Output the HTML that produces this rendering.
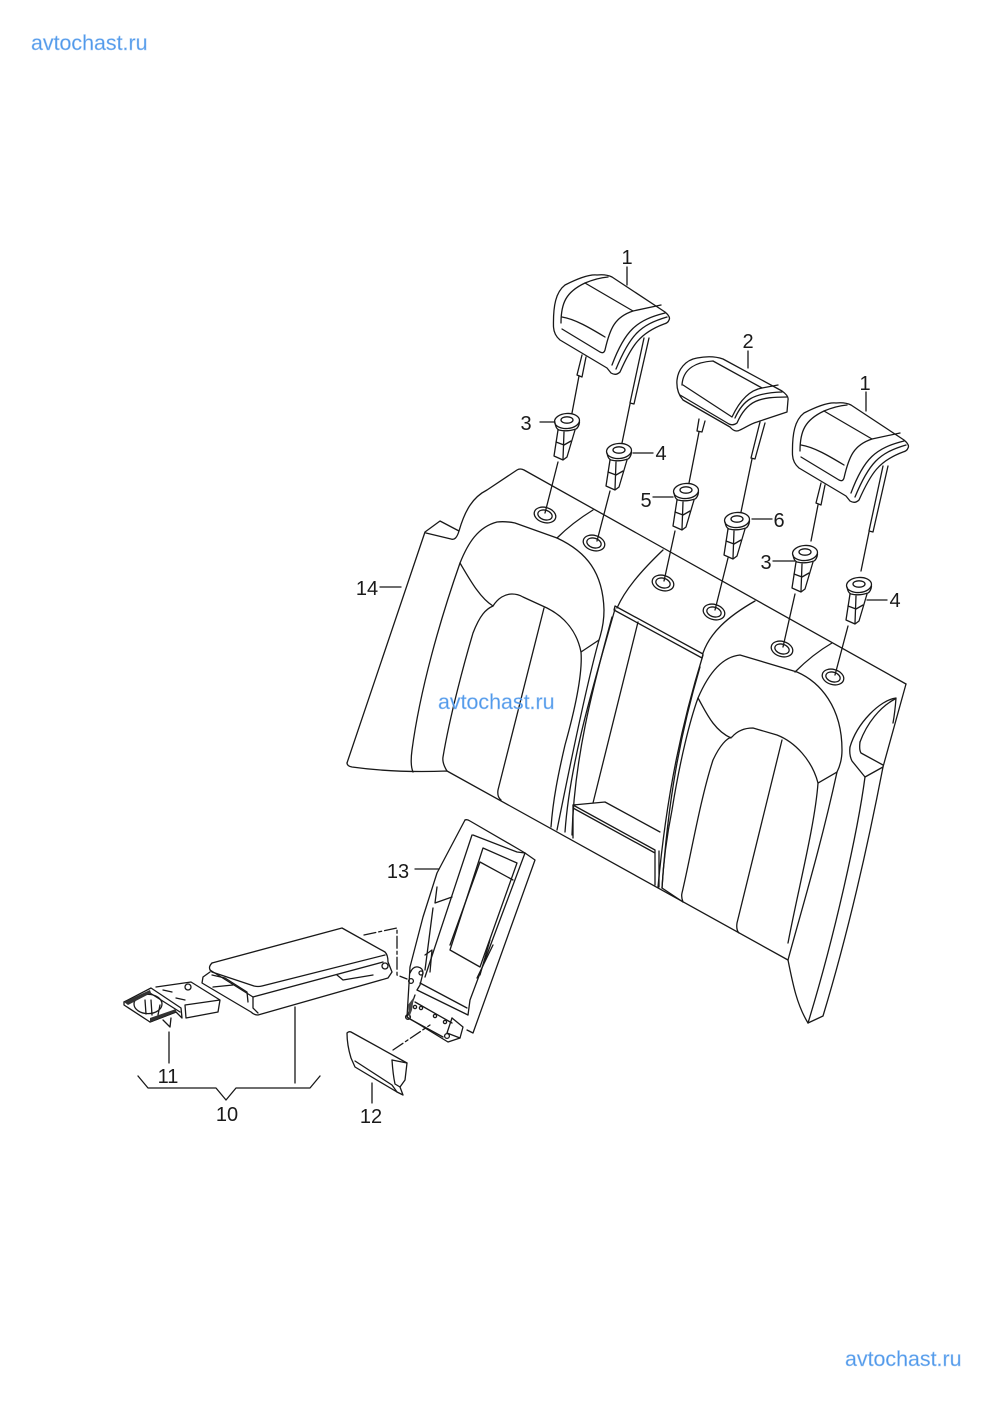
<!DOCTYPE html>
<html><head><meta charset="utf-8"><style>
html,body{margin:0;padding:0;background:#fff}
svg{display:block}
.l path,.l line,.l ellipse,.l circle,.l polyline{fill:none;stroke:#181818;stroke-width:1.3;stroke-linejoin:round;stroke-linecap:round}
.t{font-family:"Liberation Sans",sans-serif;font-size:20px;fill:#1a1a1a;text-anchor:middle}
.w{font-family:"Liberation Sans",sans-serif;font-size:21.4px;fill:#3f8fe8;opacity:.9;stroke:#9cc6f5;stroke-width:.4}
</style></head><body>
<svg width="993" height="1403" viewBox="0 0 993 1403" xmlns="http://www.w3.org/2000/svg">
<rect width="993" height="1403" fill="#fff"/>
<g class="l">
<defs>
<g id="hr">
<path d="M553.5 327C553 305 556 292 565 285C575 280 588 274 597 275Q606 274 612 277L665 312Q671 317 669 320Q668 323 664 324C640 333 632 345 620 372Q616 376 611 373L607 368L560 340Q554 335 553.5 327Z"/>
<path d="M561 323C561 303 566 292 585 283Q597 278 608 277"/>
<path d="M585 283L633 311L661 305"/>
<path d="M633 311C615 317 610 328 605 350Q604 354 600 352L562 329"/>
<path d="M562 317C575 319 590 328 605 337"/>
<path d="M665 313C637 320 625 330 612 365"/>
<path d="M667 317C640 325 630 335 616 369"/>
<path d="M582 355L577 375L582 377L586 357"/>
<path d="M644 338L630 403L634 404L649 338"/>
</g>
<g id="cl">
<ellipse cx="0" cy="0" rx="12.5" ry="7.5" transform="rotate(-4)"/>
<ellipse cx="0" cy="-1" rx="6" ry="3.2"/>
<path d="M-12 2Q-11 8-8 9Q0 11 9 8Q12 6 12.5 1"/>
<path d="M-9 9L-13 35L-4 39L0 36L8 9"/>
<path d="M-11 21L-3 24L4 20M-3 11L-4 38"/>
</g>
<g id="gr">
<ellipse rx="11" ry="7.6" transform="rotate(16)"/>
<ellipse rx="7.3" ry="4.8" transform="rotate(16)"/>
</g>
</defs>
<!-- seat outer -->
<path d="M347 763L425 532L440 521L459 531Q456 541 451 539L426 533"/>
<path d="M347 763Q347 766 352 767Q395 773 447 771L788 960"/>
<path d="M459 531C465 510 473 497 487 490L517 470Q520 468 524 470L906 684"/>
<path d="M906 684L883 767C866 855 846 940 823 1016L808 1023C797 1005 793 985 788 960"/>
<path d="M865 777C858 830 835 935 808 1023"/>
<!-- left seat -->
<path d="M413 772Q410 765 412 750C420 690 440 620 460 563C468 543 478 527 497 522Q505 521 515 523L557 538C587 552 603 573 604 610Q604 625 599 640C585 690 565 790 557 830"/>
<path d="M447 771Q442 763 443 757C450 715 465 660 473 633C480 615 486 609 493 606C498 598 505 594 512 594Q518 594 523 597L547 608C565 617 577 632 581 652C583 677 572 720 565 745C558 775 553 800 551 827"/>
<path d="M460 563C470 580 480 598 493 606"/>
<path d="M581 652L599 640"/>
<path d="M544 608L498 790Q497 797 501 800"/>
<path d="M557 538C567 528 580 518 593 510"/>
<!-- center -->
<path d="M617 608C625 590 640 572 663 550"/>
<path d="M703 653C710 633 727 617 755 601"/>
<path d="M615 606L703 654L702 658L614 610Z"/>
<path d="M615 609C595 680 570 760 565 832"/>
<path d="M612 617C592 690 574 760 572 835"/>
<path d="M638 622L593 803"/>
<path d="M573 805L605 802L660 832"/>
<path d="M573 805L655 850M573 808L655 853M655 850V885M573 805V838M659 851V887"/>
<path d="M703 655C683 720 667 790 658 887"/>
<path d="M700 667C680 735 668 800 662 888"/>
<!-- right seat -->
<path d="M662 888Q664 850 672 810C680 760 690 720 698 698C707 677 720 657 740 655L797 672C820 682 842 707 842 750Q842 762 837 772C820 850 800 915 788 960"/>
<path d="M683 902Q681 897 682 893C690 860 700 800 713 760C720 745 727 738 732 737C738 730 745 728 753 728L777 735C795 742 812 760 818 783C815 825 798 890 788 943"/>
<path d="M698 698C705 710 713 730 731 738"/>
<path d="M818 783L837 772"/>
<path d="M782 740L737 923Q736 930 739 933"/>
<path d="M795 672C807 660 820 650 832 643"/>
<path d="M662 888L683 902"/>
<!-- side hole -->
<path d="M850 747C857 723 880 700 896 698Q895 712 893 723"/>
<path d="M860 742C867 723 880 707 895 699"/>
<path d="M860 742Q859 750 861 753L883 765"/>
<path d="M850 747Q849 755 852 761L865 777L883 767"/>
<use href="#gr" x="545" y="515"/><use href="#gr" x="594" y="543"/><use href="#gr" x="663" y="583"/><use href="#gr" x="714" y="612"/><use href="#gr" x="782" y="649"/><use href="#gr" x="833" y="677"/>
<!-- headrests -->
<use href="#hr"/>
<use href="#hr" x="239" y="128"/>
<path d="M677 380C678 370 685 360 697 358Q712 355 723 359L782 391Q789 396 788 400L787 412L757 422C750 424 745 428 740 430Q735 433 730 427L683 400Q676 392 677 380Z"/>
<path d="M682 385C683 368 697 362 713 361L762 388L778 385"/>
<path d="M762 388C750 390 740 400 732 417L683 385"/>
<path d="M787 397C760 397 747 400 737 423Q733 426 729 424L680 395"/>
<path d="M782 392C753 393 743 400 735 418"/>
<path d="M699 419L697 431L702 432L705 421"/>
<path d="M760 422L751 458L755 459L765 423"/>
<!-- rods -->
<path d="M579 376L572 413M630 404L622 443"/>
<path d="M558 462L545 513M610 491L597 541"/>
<path d="M699 432L689 483M752 459L741 512"/>
<path d="M675 531L664 581M728 558L715 610"/>
<path d="M818 505L811 541M869 532L861 571"/>
<path d="M795 594L783 647M848 626L835 675"/>
<!-- clips -->
<use href="#cl" x="567" y="421"/><use href="#cl" x="619" y="451"/><use href="#cl" x="686" y="491"/><use href="#cl" x="737" y="520"/><use href="#cl" x="805" y="553"/><use href="#cl" x="859" y="585"/>
<!-- armrest lid -->
<path d="M212 963L342 928L385 952Q388 955 388 962L392 972L388 978L258 1015Q254 1015 251 1012L202 983L203 977L210 972"/>
<path d="M212 963Q207 968 212 972L254 986Q258 987 262 986L385 955"/>
<path d="M210 970L253 997L383 962"/>
<path d="M253 997V1008L258 1013"/>
<path d="M337 975L343 980L373 975"/>
<circle cx="385" cy="966" r="3"/>
<path d="M212 975L225 978L247 992L248 1002M213 987L233 985"/>
<!-- cupholder -->
<path d="M156 987L191 982L220 1000L218 1012L186 1018L185 1005L220 1000"/>
<path d="M124 1002L124 1005L150 1022L176 1012L182 1018L181 1008L151 988L124 1002"/>
<path d="M124 1002L150 993L180 1012"/>
<ellipse cx="148" cy="1004" rx="14" ry="9.6"/>
<path d="M145 1000L146 1014M151 1000L152 1015M160 1005L158 1015"/>
<path d="M163 990L172 992M176 998L185 1000"/>
<path d="M163 1020L170 1027L171 1018"/>
<path d="M150 1022L176 1012"/>
<circle cx="188" cy="987" r="3"/>
<!-- part 12 -->
<path d="M347 1033Q349 1031 351 1032L407 1063L405 1080L400 1087L403 1095L397 1092L355 1067L351 1058Q347 1045 347 1033Z"/>
<path d="M355 1061L392 1085L397 1092M392 1060Q393 1075 395 1084L400 1087"/>
<path d="M392 1060L407 1063"/>
<!-- part 13 -->
<path d="M465 820Q467 819 470 821L520 850L525 853L535 860L473 1033L467 1030"/>
<path d="M465 820L437 873L423 917L410 967L407 1017"/>
<path d="M472 835L425 977M473 835L517 852L525 853"/>
<path d="M483 848L517 863L480 967L450 950Z"/>
<path d="M480 862L513 880M480 862L450 945"/>
<path d="M525 853L470 1000L468 1015"/>
<path d="M420 983L467 1008M417 990L468 1015"/>
<path d="M415 995L407 1017L448 1042L460 1038L463 1027L452 1018"/>
<path d="M415 1002L452 1023M408 1018L443 1037"/>
<path d="M452 1018L447 1033L460 1038"/>
<path d="M437 887L435 903L452 897M433 908L425 970"/>
<path d="M410 973Q413 966 418 967Q423 968 423 973L420 985L417 990"/>
<path d="M425 955L432 950L430 972"/>
<path d="M490 940L480 975M493 945L477 978"/>
<circle cx="411" cy="981" r="2.4"/><circle cx="421" cy="973" r="2"/><circle cx="408" cy="1017" r="2.4"/><circle cx="447" cy="1036" r="2.4"/>
<circle cx="415" cy="1007" r="1.6"/><circle cx="421" cy="1008" r="1.6"/><circle cx="435" cy="1016" r="1.6"/><circle cx="445" cy="1022" r="1.6"/>
<!-- dash-dot -->
<path stroke-dasharray="12 3 3 3" d="M364 935L397 928L397 975L407 979"/>
<path stroke-dasharray="12 3 3 3" d="M393 1050L430 1025"/>
<!-- leaders -->
<path d="M627 267V285M748 351V368M866 392V411M540 422H555M633 453H653M653 497H673M752 519H772M773 561H795M867 600H887M380 587H401M415 869H439"/>
<path d="M169 1032V1063M295 1007V1083M372 1083V1103"/>
<path d="M138 1076L148 1088H216L226 1100L236 1088H310L320 1076"/>
</g>
<path d="M124 1002L150 990L151 993L128 1005ZM150 1022L176 1012L176 1009L150 1018Z" fill="#333"/>
<path d="M408 1005L414 997L412 1010L409 1018Z" fill="#444"/>
<text class="t" x="627" y="264">1</text>
<text class="t" x="748" y="348">2</text>
<text class="t" x="865" y="390">1</text>
<text class="t" x="526" y="430">3</text>
<text class="t" x="661" y="460">4</text>
<text class="t" x="646" y="507">5</text>
<text class="t" x="779" y="527">6</text>
<text class="t" x="766" y="569">3</text>
<text class="t" x="895" y="607">4</text>
<text class="t" x="367" y="595">14</text>
<text class="t" x="398" y="878">13</text>
<text class="t" x="168" y="1083">11</text>
<text class="t" x="227" y="1121">10</text>
<text class="t" x="371" y="1123">12</text>
<text class="w" x="31" y="50">avtochast.ru</text>
<text class="w" x="438" y="709">avtochast.ru</text>
<text class="w" x="845" y="1366">avtochast.ru</text>
</svg>
</body></html>
